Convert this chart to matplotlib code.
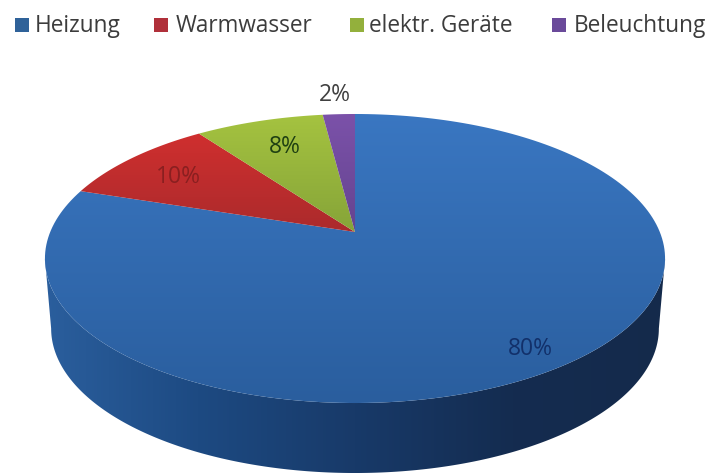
import numpy as np
import matplotlib
matplotlib.use('Agg')
import matplotlib.pyplot as plt
from matplotlib.colors import LinearSegmentedColormap
from matplotlib.patches import Polygon, Rectangle

plt.rcParams['font.family'] = ['Open Sans', 'DejaVu Sans']

categories = ['Heizung', 'Warmwasser', 'elektr. Geräte', 'Beleuchtung']
shares = [80, 10, 8, 2]
share_labels = ['80%', '10%', '8%', '2%']

# farben: legende, oben hell, unten dunkel, text
legend_colors = ['#2f6299', '#b0303a', '#93b03c', '#6a4a9a']
top_colors = ['#3a77c2', '#d8302f', '#a6c440', '#7c52aa']
low_colors = ['#2a5e9e', '#a82a2c', '#84a238', '#63438e']
label_colors = ['#12306a', '#8a1f20', '#1f4012', '#404040']
label_pos = [(530, 349), (178, 177), (285, 147), (335, 95)]

legend_box_x = [15, 154, 350, 552]
legend_text_x = [35, 176, 369, 574]

# perspektive der tortenflaeche
XC, HALF_W = 355, 304.8
Y_MID, Y_B, PERSP = 232, -97.1, 0.1834


def project(theta):
    # theta im uhrzeigersinn von oben, punkt auf dem rand
    u, v = np.sin(theta), np.cos(theta)
    den = 1 + PERSP * v
    return XC + HALF_W * u / den, (Y_MID + Y_B * v) / den


def project_bottom(theta):
    x, y = project(theta)
    return XC + (x - XC) * 0.98, y + 70


fig = plt.figure(figsize=(7.14, 4.73), dpi=100)
ax = fig.add_axes([0, 0, 1, 1])

# seitenwand als ein stueck, verlauf von links nach rechts
tangent = np.arccos(-PERSP)
t_side = np.linspace(tangent, 2 * np.pi - tangent, 400)
x_top, y_top = project(t_side)
x_bot, y_bot = project_bottom(t_side)
side_pts = np.column_stack([np.r_[x_top, x_bot[::-1]], np.r_[y_top, y_bot[::-1]]])
side_cmap = LinearSegmentedColormap.from_list(
    'side', ['#2b5f9e', '#1d4a82', '#183a69', '#142c50', '#152a4b'])
side_im = ax.imshow(np.linspace(0, 1, 256).reshape(1, -1), cmap=side_cmap,
                    extent=[40, 670, 480, 240], aspect='auto', zorder=1)
side_im.set_clip_path(Polygon(side_pts, closed=True, transform=ax.transData))

# tortenstuecke mit verlauf
start = 0.0
total = sum(shares)
for i, share in enumerate(shares):
    end = start + 2 * np.pi * share / total
    t = np.linspace(start, end, 200)
    xs, ys = project(t)
    pts = np.column_stack([np.r_[XC, xs], np.r_[Y_MID, ys]])
    cmap = LinearSegmentedColormap.from_list('s%d' % i, [top_colors[i], low_colors[i]])
    grad = np.linspace(0, 1, 256).reshape(-1, 1)
    y_low = 403 if i == 0 else 240
    im = ax.imshow(grad, cmap=cmap, extent=[30, 680, y_low, 110], origin='upper',
                   aspect='auto', zorder=2)
    im.set_clip_path(Polygon(pts, closed=True, transform=ax.transData))
    start = end

# prozentwerte
for lab, pos, col in zip(share_labels, label_pos, label_colors):
    ax.text(pos[0], pos[1], lab, color=col, fontsize=16.5, ha='center', va='center', zorder=4)

# legende
for name, bx, tx, col in zip(categories, legend_box_x, legend_text_x, legend_colors):
    ax.add_patch(Rectangle((bx, 18), 14, 14, facecolor=col, edgecolor='none'))
    ax.text(tx, 26, name, color='#3c3c3c', fontsize=16.3, ha='left', va='center')

ax.set_xlim(0, 714)
ax.set_ylim(473, 0)
ax.axis('off')
fig.savefig('out.png', dpi=100, facecolor='white')
